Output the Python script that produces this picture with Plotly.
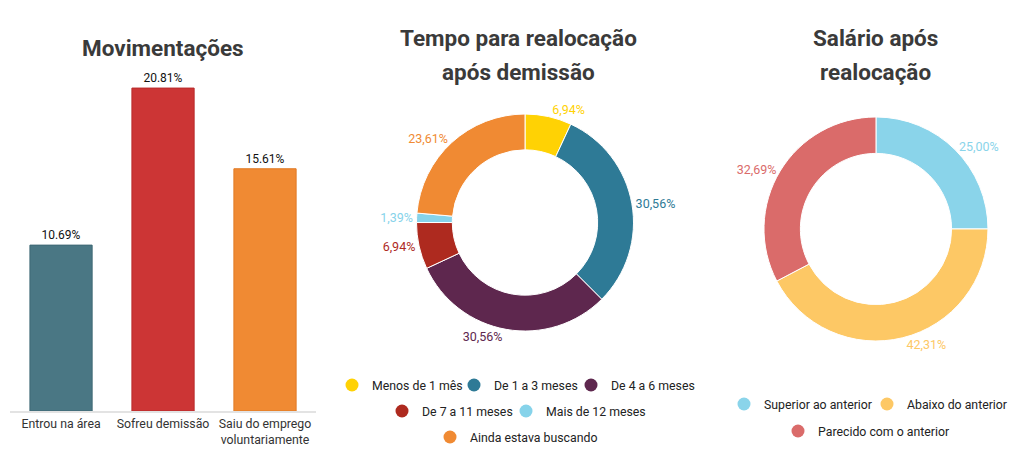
import plotly.graph_objects as go

# ---- data ----
mov_categories = ["Entrou na área", "Sofreu demissão", "Saiu do emprego<br>voluntariamente"]
mov_values = [10.69, 20.81, 15.61]
mov_colors = ["#4A7784", "#CC3535", "#F08A33"]
mov_line_colors = ["#3E6874", "#B82A2A", "#E07A25"]

tempo_labels = ["Menos de 1 mês", "De 1 a 3 meses", "De 4 a 6 meses",
                "De 7 a 11 meses", "Mais de 12 meses", "Ainda estava buscando"]
tempo_values = [6.94, 30.56, 30.56, 6.94, 1.39, 23.61]
tempo_colors = ["#FFD204", "#2E7A96", "#5E274E", "#AE2A1F", "#86D3EA", "#F08A33"]

salario_labels = ["Superior ao anterior", "Abaixo do anterior", "Parecido com o anterior"]
salario_values = [25.00, 42.31, 32.69]
salario_colors = ["#8AD4EA", "#FDC865", "#DA6B6A"]

FONT = "Roboto"
W, H = 1024, 470

# legend item placement (circle centre, px)
tempo_legend_pos = [(351, 385), (473, 385), (590, 385), (401, 411), (525, 411), (449, 437)]
salario_legend_pos = [(743, 404), (886, 404), (797, 431)]


def br(v):
    return f"{v:.2f}".replace(".", ",") + "%"


fig = go.Figure()

fig.add_trace(go.Bar(
    x=mov_categories, y=mov_values,
    marker=dict(color=mov_colors, line=dict(color=mov_line_colors, width=1)),
    text=[f"{v:.2f}%" for v in mov_values], textposition="outside",
    textfont=dict(family=FONT, size=12, color="#111111"),
    cliponaxis=False, showlegend=False, hoverinfo="skip",
))

fig.add_trace(go.Pie(
    labels=tempo_labels, values=tempo_values, sort=False, direction="clockwise", rotation=0,
    hole=0.67, domain=dict(x=[0.4063, 0.6191], y=[0.2957, 0.7574]),
    marker=dict(colors=tempo_colors, line=dict(color="white", width=1)),
    text=[br(v) for v in tempo_values], textinfo="text", textposition="outside",
    textfont=dict(family=FONT, size=12.5, color=tempo_colors),
    showlegend=False, hoverinfo="skip",
))

fig.add_trace(go.Pie(
    labels=salario_labels, values=salario_values, sort=False, direction="clockwise", rotation=0,
    hole=0.675, domain=dict(x=[0.7456, 0.9653], y=[0.2745, 0.7511]),
    marker=dict(colors=salario_colors, line=dict(color="white", width=1)),
    text=[br(v) for v in salario_values], textinfo="text", textposition="outside",
    textfont=dict(family=FONT, size=12.5, color=salario_colors),
    showlegend=False, hoverinfo="skip",
))

leg_common = dict(orientation="h", xanchor="left", yanchor="middle",
                  font=dict(family=FONT, size=12.3, color="#222222"),
                  bgcolor="rgba(0,0,0,0)", itemclick=False, itemdoubleclick=False,
                  borderwidth=0)
legend_layout = {}
leg_id = 2
entries = [(tempo_labels[i], tempo_colors[i], tempo_legend_pos[i]) for i in range(len(tempo_labels))] + \
          [(salario_labels[i], salario_colors[i], salario_legend_pos[i]) for i in range(len(salario_labels))]
for name, color, (cx, cy) in entries:
    lname = f"legend{leg_id}"
    fig.add_trace(go.Scatter(x=[None], y=[None], mode="markers", name=name,
                             marker=dict(color=color, size=13),
                             legend=lname, hoverinfo="skip"))
    legend_layout[lname] = dict(x=(cx - 19) / W, y=1 - cy / H, **leg_common)
    leg_id += 1

title_font = dict(family=FONT, size=22.5, color="#3A3A3A")
titles = [("<b>Movimentações</b>", 0.159, 0.898),
          ("<b>Tempo para realocação</b>", 0.506, 0.919),
          ("<b>após demissão</b>", 0.506, 0.847),
          ("<b>Salário após</b>", 0.855, 0.919),
          ("<b>realocação</b>", 0.855, 0.847)]
annotations = [dict(text=t, x=x, y=y, xref="paper", yref="paper", showarrow=False,
                    xanchor="center", yanchor="middle", font=title_font)
               for t, x, y in titles]

fig.update_layout(
    width=W, height=H,
    margin=dict(l=0, r=0, t=0, b=0),
    paper_bgcolor="white", plot_bgcolor="white",
    font=dict(family=FONT),
    showlegend=True,
    bargap=0.39,
    xaxis=dict(domain=[0.0098, 0.3086], showline=True, linecolor="#E3E3E3", linewidth=2,
               showgrid=False, zeroline=False, ticks="",
               tickfont=dict(family=FONT, size=12.3, color="#333333")),
    yaxis=dict(domain=[0.1255, 0.8298], range=[0, 21.33], visible=False, showgrid=False),
    annotations=annotations,
    **legend_layout,
)

fig.write_html("out.html", config={"displayModeBar": False},
               post_script="document.body.style.margin='0px';")
